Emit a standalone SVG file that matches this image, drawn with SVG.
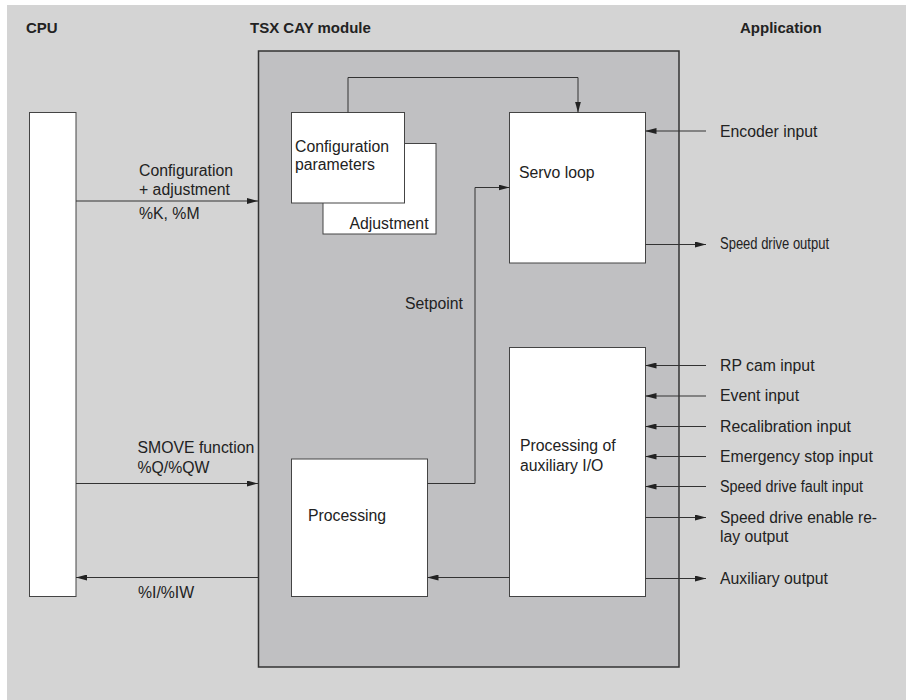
<svg xmlns="http://www.w3.org/2000/svg" width="910" height="700" viewBox="0 0 910 700">
<style>
text{font-family:"Liberation Sans",Arial,sans-serif;font-size:15.8px;fill:#222}
.title{font-weight:bold;font-size:15px}
.box{fill:#fff;stroke:#444;stroke-width:1}
.conn{fill:none;stroke:#333;stroke-width:1}
</style>
<defs>
<marker id="arr" markerUnits="userSpaceOnUse" markerWidth="11" markerHeight="6" refX="11" refY="3" orient="auto">
<path d="M0,0 L11,3 L0,6 z" fill="#222"/>
</marker>
</defs>
<rect x="7" y="5" width="899" height="695" fill="#d4d4d4"/>
<text class="title" x="26" y="33">CPU</text>
<text class="title" x="250" y="33">TSX CAY module</text>
<text class="title" x="740" y="33">Application</text>
<g id="module"><rect x="258.5" y="51" width="420.5" height="616" fill="#c0c0c2" stroke="#333" stroke-width="1.5"/></g>
<g id="cpu"><rect class="box" x="29.5" y="112.5" width="46.5" height="484"/></g>
<g id="adjustment"><rect class="box" x="323" y="143.5" width="113" height="90.5"/><text x="349.5" y="228.5">Adjustment</text></g>
<g id="config"><rect class="box" x="291.5" y="112.5" width="113" height="90.5"/><text x="295" y="151.5">Configuration</text><text x="295" y="170">parameters</text></g>
<g id="servo"><rect class="box" x="509.5" y="112.5" width="136" height="150.5"/><text x="519" y="178">Servo loop</text></g>
<g id="processing"><rect class="box" x="291.5" y="459" width="136" height="137.5"/><text x="308" y="521">Processing</text></g>
<g id="aux"><rect class="box" x="509.5" y="347.5" width="136" height="249"/><text x="520" y="451">Processing of</text><text x="520" y="470.5">auxiliary I/O</text></g>
<g id="connectors">
<path class="conn" d="M76,201 H258" marker-end="url(#arr)"/>
<path class="conn" d="M76,483.5 H258" marker-end="url(#arr)"/>
<path class="conn" d="M258,577.5 H76" marker-end="url(#arr)"/>
<path class="conn" d="M509.5,577.5 H427.5" marker-end="url(#arr)"/>
<path class="conn" d="M427.5,483.5 H475 V187.5 H509.5" marker-end="url(#arr)"/>
<path class="conn" d="M348,112.5 V77.5 H578 V112.5" marker-end="url(#arr)"/>
<path class="conn" d="M706,131 H645.5" marker-end="url(#arr)"/>
<path class="conn" d="M645.5,244.5 H706" marker-end="url(#arr)"/>
<path class="conn" d="M706,365.5 H645.5" marker-end="url(#arr)"/>
<path class="conn" d="M706,396 H645.5" marker-end="url(#arr)"/>
<path class="conn" d="M706,426.5 H645.5" marker-end="url(#arr)"/>
<path class="conn" d="M706,456.5 H645.5" marker-end="url(#arr)"/>
<path class="conn" d="M706,486.5 H645.5" marker-end="url(#arr)"/>
<path class="conn" d="M645.5,517.5 H706" marker-end="url(#arr)"/>
<path class="conn" d="M645.5,578.5 H706" marker-end="url(#arr)"/>
</g>
<g id="labels">
<text x="139" y="176">Configuration</text>
<text x="139" y="194.5">+ adjustment</text>
<text x="139" y="218.5">%K, %M</text>
<text x="137.5" y="453">SMOVE function</text>
<text x="137.5" y="473">%Q/%QW</text>
<text x="138" y="597.5">%I/%IW</text>
<text x="405" y="309">Setpoint</text>
<text x="720" y="136.5">Encoder input</text>
<text x="720" y="248.5" textLength="109" lengthAdjust="spacingAndGlyphs">Speed drive output</text>
<text x="720" y="371">RP cam input</text>
<text x="720" y="401">Event input</text>
<text x="720" y="431.5">Recalibration input</text>
<text x="720" y="462">Emergency stop input</text>
<text x="720" y="491.5" textLength="143" lengthAdjust="spacingAndGlyphs">Speed drive fault input</text>
<text x="720" y="522.5" textLength="157" lengthAdjust="spacingAndGlyphs">Speed drive enable re-</text>
<text x="720" y="541.5">lay output</text>
<text x="720" y="583.5">Auxiliary output</text>
</g>
</svg>
